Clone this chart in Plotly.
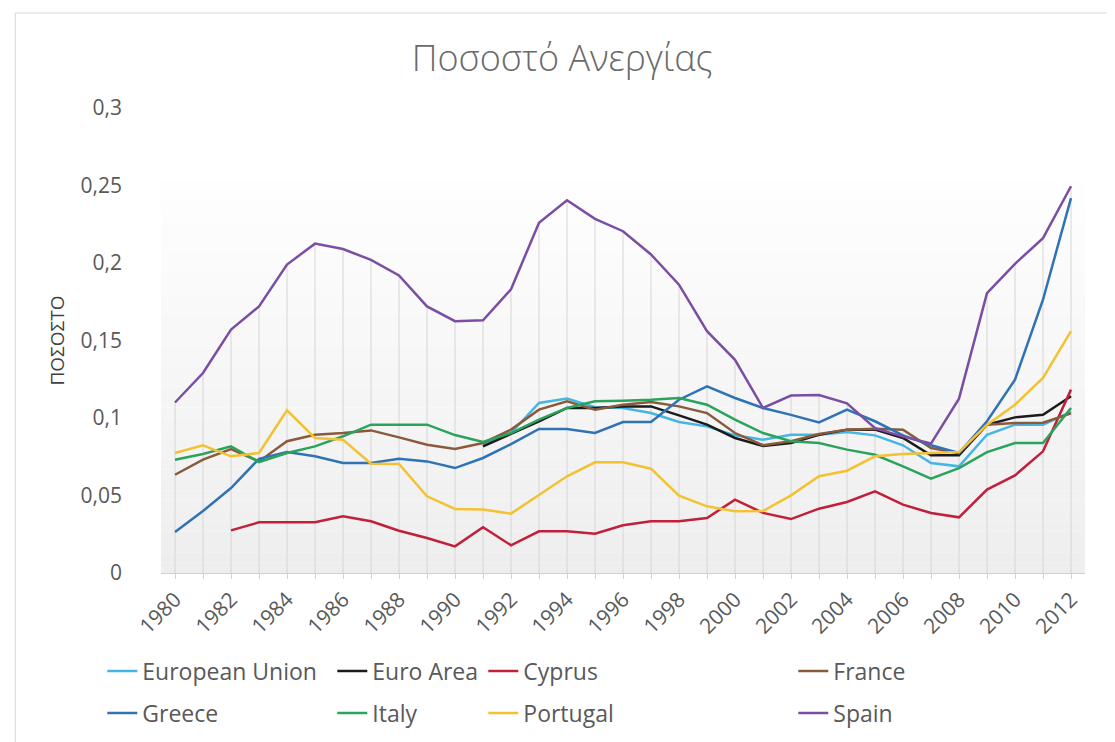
import plotly.graph_objects as go

years = list(range(1980, 2013))
tick_years = list(range(1980, 2013, 2))
tick_labels = [str(y) for y in tick_years]

european_union = [None] * 11 + [0.083, 0.0903, 0.1097, 0.1125, 0.107, 0.1065, 0.1032, 0.0974, 0.0946, 0.0888,
                                0.086, 0.0892, 0.0892, 0.091, 0.0888, 0.0824, 0.071, 0.0688, 0.0892, 0.0957, 0.0957, 0.104]
euro_area = [None] * 11 + [0.0817, 0.0897, 0.0979, 0.1065, 0.1065, 0.1075, 0.1075, 0.1017, 0.0957, 0.0871,
                           0.082, 0.0839, 0.0892, 0.0925, 0.0925, 0.0871, 0.0759, 0.0759, 0.0957, 0.1004, 0.1021, 0.114]
cyprus = [None, None, 0.0275, 0.0327, 0.0327, 0.0327, 0.0366, 0.0334, 0.0273, 0.0226, 0.0172, 0.0295, 0.0179,
          0.0269, 0.0269, 0.0254, 0.0308, 0.0334, 0.0334, 0.0355, 0.0473, 0.0388, 0.0348, 0.0415, 0.0458, 0.0527,
          0.0441, 0.0387, 0.0359, 0.0538, 0.063, 0.0785, 0.1183]
france = [0.0634, 0.0731, 0.080, 0.072, 0.085, 0.0892, 0.0903, 0.092, 0.0875, 0.0828, 0.080, 0.0839, 0.0925,
          0.1054, 0.1108, 0.1054, 0.1086, 0.1103, 0.1075, 0.1032, 0.0903, 0.0825, 0.085, 0.0897, 0.0925, 0.0931,
          0.0925, 0.0806, 0.0774, 0.0957, 0.0968, 0.097, 0.103]
greece = [0.0265, 0.040, 0.0548, 0.0737, 0.078, 0.0753, 0.071, 0.071, 0.0737, 0.072, 0.0677, 0.0742, 0.0832,
          0.0929, 0.0929, 0.0903, 0.0974, 0.0974, 0.1118, 0.1204, 0.1129, 0.1065, 0.102, 0.0972, 0.1054, 0.0979,
          0.0888, 0.0824, 0.0774, 0.0979, 0.1247, 0.1763, 0.2419]
italy = [0.0731, 0.0768, 0.0817, 0.0716, 0.0774, 0.0817, 0.0882, 0.0957, 0.0957, 0.0957, 0.089, 0.0845, 0.0903,
         0.0989, 0.1065, 0.1108, 0.1112, 0.1118, 0.1129, 0.1086, 0.0989, 0.0903, 0.085, 0.0839, 0.0796, 0.0763,
         0.0688, 0.0609, 0.0677, 0.078, 0.0839, 0.0839, 0.1065]
portugal = [0.0774, 0.0824, 0.0753, 0.0774, 0.105, 0.0871, 0.086, 0.0705, 0.0703, 0.0495, 0.0413, 0.0409, 0.0383,
            0.0505, 0.0624, 0.0714, 0.0714, 0.0673, 0.0499, 0.043, 0.0398, 0.040, 0.0501, 0.0624, 0.066, 0.0753,
            0.0768, 0.0774, 0.078, 0.0957, 0.1086, 0.1258, 0.156]
spain = [0.110, 0.129, 0.157, 0.172, 0.199, 0.2125, 0.209, 0.202, 0.192, 0.172, 0.1625, 0.163, 0.183, 0.226,
         0.2405, 0.2285, 0.2205, 0.2055, 0.186, 0.156, 0.1375, 0.1065, 0.1145, 0.1148, 0.1095, 0.0935, 0.088,
         0.0835, 0.1125, 0.1805, 0.1995, 0.216, 0.2495]

series_names = ["European Union", "Euro Area", "Cyprus", "France", "Greece", "Italy", "Portugal", "Spain"]
series_values = [european_union, euro_area, cyprus, france, greece, italy, portugal, spain]
series_colors = ["#45B5E3", "#1B1B1B", "#C21F3A", "#8A5A3C", "#2F73B4", "#2AA35C", "#F3C232", "#7A4EA3"]

# plot-area pixel geometry (figure 1115 x 742)
PL, PR, PT, PB = 152.7, 1076.7, 100.0, 565.0
PW, PH = PR - PL, PB - PT


def px_x(p):
    return (p - PL) / PW


def px_y(p):
    return (PB - p) / PH


fig = go.Figure()

# drop lines from the highest value of each year down to the axis
drop_x, drop_y = [], []
for i, yr in enumerate(years):
    vals = [s[i] for s in series_values if s[i] is not None]
    drop_x += [yr, yr, None]
    drop_y += [0, max(vals), None]
fig.add_trace(go.Scatter(x=drop_x, y=drop_y, mode="lines", line=dict(color="#d6d6d6", width=1),
                         showlegend=False, hoverinfo="skip"))

# legend layout: column left edges (px) and row centers (px)
col_px = [94, 324, 475, 785]
row_px = [663, 705]
legend_cfg = {}
for k, (name, vals, col) in enumerate(zip(series_names, series_values, series_colors)):
    lg = "legend" if k == 0 else f"legend{k + 1}"
    r, c = divmod(k, 4)
    fig.add_trace(go.Scatter(x=years, y=vals, name=name, mode="lines",
                             line=dict(color=col, width=2.5), legend=lg, connectgaps=False))
    legend_cfg[lg] = dict(x=px_x(col_px[c]), y=px_y(row_px[r]), xanchor="left", yanchor="middle",
                          bgcolor="rgba(0,0,0,0)", font=dict(family="Open Sans", size=23, color="#595959"),
                          itemwidth=30)

# gradient background for the plot area
shapes = []
n = 40
top = 0.89
for i in range(n):
    y0 = top * i / n
    y1 = top * (i + 1) / n
    g = int(round(238 + (255 - 238) * (i / (n - 1))))
    shapes.append(dict(type="rect", xref="paper", yref="paper", x0=0, x1=1, y0=y0, y1=y1,
                       fillcolor=f"rgb({g},{g},{g})", line=dict(width=0), layer="below"))
# outer chart border
shapes.append(dict(type="rect", xref="paper", yref="paper", x0=px_x(7), x1=px_x(1106), y0=px_y(760), y1=px_y(5),
                   line=dict(color="#d9d9d9", width=1), fillcolor="rgba(0,0,0,0)", layer="below"))

fig.update_layout(
    width=1115, height=742,
    margin=dict(l=PL, r=1115 - PR, t=PT, b=742 - PB, pad=0),
    paper_bgcolor="white", plot_bgcolor="white",
    separators=",.",
    title=dict(text="Ποσοστό Ανεργίας", x=0.497, xref="container", xanchor="center",
               y=1 - 50 / 742, yref="container", yanchor="middle",
               font=dict(family="Open Sans", size=36, color="#6a6a6a", weight=300)),
    shapes=shapes,
    **legend_cfg,
)

fig.update_xaxes(range=[1979.5, 2012.5], tickmode="array", tickvals=tick_years, ticktext=tick_labels,
                 tickangle=-45, tickfont=dict(family="Open Sans", size=21, color="#595959"),
                 showgrid=False, zeroline=False, showline=True, linecolor="#d0d0d0", linewidth=1,
                 ticks="outside", ticklen=5, tickcolor="#d0d0d0",
                 minor=dict(dtick=1, tick0=1980, ticks="outside", ticklen=5, tickcolor="#d0d0d0"))
fig.update_yaxes(range=[0, 0.3], dtick=0.05, tick0=0, showgrid=False, zeroline=False, showline=False,
                 tickfont=dict(family="Open Sans", size=21, color="#595959"), ticklabelstandoff=38,
                 title=dict(text="ΠΟΣΟΣΤΟ", font=dict(family="Open Sans", size=19, color="#404040"), standoff=10))

fig.write_html("out.html")
